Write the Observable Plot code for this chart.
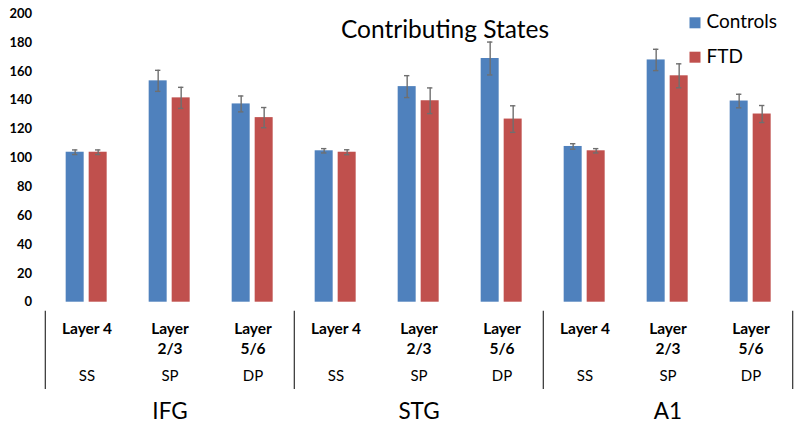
<!DOCTYPE html>
<html>
<head>
<meta charset="utf-8">
<script src="https://cdn.jsdelivr.net/npm/d3@7"></script>
<script src="https://cdn.jsdelivr.net/npm/@observablehq/plot@0.6"></script>
<style>
  html, body { margin: 0; padding: 0; background: #fff; }
  #wrap { position: relative; width: 800px; height: 426px; font-family: Lato, sans-serif; }
  #overlay { position: absolute; left: 0; top: 0; pointer-events: none; }
</style>
</head>
<body>
<div id="wrap"></div>
<script>
// ---- data ----
const title = "Contributing States";
const regions = ["IFG", "STG", "A1"];
const layers = ["Layer 4", "Layer\n2/3", "Layer\n5/6"];
const cellTypes = ["SS", "SP", "DP"];
const series = ["Controls", "FTD"];
const seriesColors = ["#4F81BD", "#C0504D"];
const controls    = [104.0, 153.5, 137.5, 105.0, 149.5, 169.0, 108.0, 168.0, 139.5];
const controlsErr = [1.6, 7.3, 5.5, 1.5, 7.6, 11.4, 1.9, 7.4, 4.7];
const ftd         = [104.0, 141.7, 128.0, 104.0, 139.7, 127.0, 105.0, 157.0, 130.5];
const ftdErr      = [1.6, 7.3, 7.0, 1.7, 8.9, 9.2, 1.5, 8.3, 5.9];
const yTicks = [0, 20, 40, 60, 80, 100, 120, 140, 160, 180, 200];

// ---- derived tables ----
const cats = [];
const catInfo = [];
regions.forEach((r, ri) => layers.forEach((l, li) => {
  const key = r + " " + l;
  cats.push(key);
  catInfo.push({cat: key, region: r, layer: l, cell: cellTypes[li], first: li === 0, mid: li === 1, last: ri === regions.length - 1 && li === layers.length - 1});
}));
const rows = [];
cats.forEach((c, i) => {
  rows.push({cat: c, series: series[0], value: controls[i], err: controlsErr[i]});
  rows.push({cat: c, series: series[1], value: ftd[i], err: ftdErr[i]});
});

const W = 800, H = 426;
const mL = 43.33, mR = 6.67, mT = 13.3, mB = 124.3;
const half = (W - mL - mR) / cats.length / 2;
const errColor = "#6f6f6f";

const chart = Plot.plot({
  width: W, height: H,
  marginLeft: mL, marginRight: mR, marginTop: mT, marginBottom: mB,
  style: {fontFamily: "Lato, sans-serif", fontSize: "13px", fontWeight: "bold", color: "#000", background: "#fff"},
  fx: {domain: cats, padding: 0, axis: null},
  x: {domain: series, paddingInner: 0.206, paddingOuter: 0.891, axis: null},
  y: {domain: [0, 200], ticks: yTicks, tickSize: 0, tickPadding: 13.5, label: null},
  color: {domain: series, range: seriesColors},
  marks: [
    Plot.barY(rows, {fx: "cat", x: "series", y: "value", fill: "series"}),
    Plot.ruleX(rows, {fx: "cat", x: "series", y1: d => d.value - d.err, y2: d => d.value + d.err, stroke: errColor, strokeWidth: 1.4}),
    Plot.tickY(rows, {fx: "cat", x: "series", y: d => d.value - d.err, stroke: errColor, strokeWidth: 1.4, insetLeft: 6.3, insetRight: 6.3}),
    Plot.tickY(rows, {fx: "cat", x: "series", y: d => d.value + d.err, stroke: errColor, strokeWidth: 1.4, insetLeft: 6.3, insetRight: 6.3}),
    // layer labels
    Plot.text(catInfo, {fx: "cat", text: "layer", frameAnchor: "bottom", lineAnchor: "top", dy: 17, fontSize: 15.5, fontWeight: "bold", lineHeight: 1.3, fill: "#000"}),
    // cell types
    Plot.text(catInfo, {fx: "cat", text: "cell", frameAnchor: "bottom", lineAnchor: "top", dy: 68.5, fontSize: 15, fontWeight: "normal", fill: "#000"}),
    // region labels
    Plot.text(catInfo.filter(d => d.mid), {fx: "cat", text: "region", frameAnchor: "bottom", lineAnchor: "top", dy: 100.5, fontSize: 22.5, fontWeight: "normal", fill: "#000"}),
    // separators
    Plot.ruleX(catInfo.filter(d => d.first), {fx: "cat", x: null, dx: -half, insetTop: 297.4, insetBottom: -87.3, stroke: "#404040", strokeWidth: 1.3}),
    Plot.ruleX(catInfo.filter(d => d.last), {fx: "cat", x: null, dx: half, insetTop: 297.4, insetBottom: -87.3, stroke: "#404040", strokeWidth: 1.3})
  ]
});

const wrap = document.getElementById("wrap");
wrap.appendChild(chart);

// title + legend overlay
const ov = d3.select(wrap).append("svg").attr("id", "overlay").attr("width", W).attr("height", H)
  .style("font-family", "Lato, sans-serif");
ov.append("text").attr("x", 445).attr("y", 38.3).attr("text-anchor", "middle")
  .attr("font-size", 24.5).attr("fill", "#000").text(title);
const lg = ov.selectAll("g.lg").data(series).join("g").attr("class", "lg")
  .attr("transform", (d, i) => `translate(689.5, ${17.3 + i * 34.4})`);
lg.append("rect").attr("width", 11).attr("height", 11).attr("fill", (d, i) => seriesColors[i]);
lg.append("text").attr("x", 17).attr("y", 11).attr("font-size", 19).attr("fill", "#000").text(d => d);
</script>
</body>
</html>
